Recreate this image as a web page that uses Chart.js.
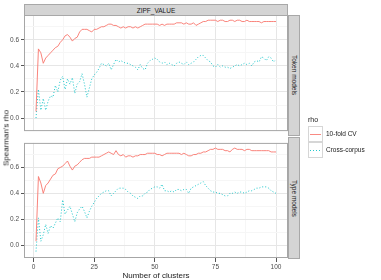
<!DOCTYPE html>
<html>
<head>
<meta charset="utf-8">
<script src="https://cdn.jsdelivr.net/npm/chart.js@4/dist/chart.umd.min.js"></script>
<style>
  body { margin: 0; width: 381px; height: 280px; background: #fff; position: relative; overflow: hidden;
         font-family: 'Liberation Sans', Arial, sans-serif; color: #1a1a1a; }
  canvas { position: absolute; left: 0; }
  .strip { position: absolute; box-sizing: border-box; background: #d4d4d4; border: 1px solid #a8a8a8;
           font-size: 6.5px; display: flex; align-items: center; justify-content: center; }
  .vstrip { writing-mode: vertical-rl; }
  .lbl { position: absolute; white-space: nowrap; }
  .key { position: absolute; left: 308px; width: 15px; height: 16px; box-sizing: border-box; border: 1px solid #d6d6d6; background: #fff; }
  .key span { position: absolute; left: 1px; right: 1px; top: 7px; height: 1px; }
</style>
</head>
<body>
<canvas id="top" width="381" height="137" style="top:0"></canvas>
<canvas id="bottom" width="381" height="143" style="top:137px"></canvas>

<div class="strip" style="left:24px; top:4px; width:264px; height:12px;">ZIPF_VALUE</div>
<div class="strip vstrip" style="left:288px; top:15px; width:12px; height:121px;">Token models</div>
<div class="strip vstrip" style="left:288px; top:137px; width:12px; height:122px;">Type models</div>

<div class="lbl" style="left:5.5px; top:137.5px; font-size:8px; transform:translate(-50%,-50%) rotate(-90deg);">Spearman's rho</div>
<div class="lbl" style="left:156px; top:275px; font-size:8px; transform:translate(-50%,-50%);">Number of clusters</div>

<div class="lbl" style="left:308px; top:116px; font-size:7px;">rho</div>
<div class="key" style="top:126px;"><span style="background:#F8766D; opacity:0.85;"></span></div>
<div class="key" style="top:142px;"><span style="background:repeating-linear-gradient(to right,#00BFC4 0 1px,transparent 1px 3px); opacity:0.85;"></span></div>
<div class="lbl" style="left:326px; top:130px; font-size:6.5px;">10-fold CV</div>
<div class="lbl" style="left:326px; top:146px; font-size:6.5px;">Cross-corpus</div>

<script>
// number of clusters (x)
const clusters = [1,2,3,4,5,6,7,8,9,10,11,12,13,14,15,16,17,18,19,20,
  21,22,23,24,25,26,27,28,29,30,31,32,33,34,35,36,37,38,39,40,
  41,42,43,44,45,46,47,48,49,50,51,52,53,54,55,56,57,58,59,60,
  61,62,63,64,65,66,67,68,69,70,71,72,73,74,75,76,77,78,79,80,
  81,82,83,84,85,86,87,88,89,90,91,92,93,94,95,96,97,98,99,100];

// Token models
const tokenCV = [0.05,0.53,0.50,0.42,0.46,0.48,0.50,0.52,0.54,0.55,
  0.58,0.60,0.63,0.64,0.62,0.59,0.61,0.62,0.66,0.68,
  0.68,0.68,0.67,0.66,0.68,0.68,0.69,0.70,0.70,0.71,
  0.72,0.72,0.71,0.71,0.70,0.69,0.70,0.69,0.70,0.70,
  0.69,0.70,0.69,0.70,0.71,0.72,0.72,0.72,0.72,0.72,
  0.72,0.71,0.72,0.71,0.72,0.72,0.72,0.72,0.73,0.73,
  0.73,0.72,0.73,0.72,0.72,0.73,0.71,0.72,0.73,0.74,
  0.74,0.75,0.75,0.75,0.75,0.74,0.75,0.75,0.74,0.74,
  0.75,0.75,0.74,0.75,0.75,0.74,0.74,0.75,0.74,0.74,
  0.74,0.74,0.74,0.73,0.74,0.74,0.74,0.74,0.74,0.74];
const tokenCross = [0.00,0.22,0.06,0.15,0.06,0.13,0.17,0.16,0.25,0.20,
  0.29,0.32,0.22,0.30,0.26,0.31,0.19,0.26,0.28,0.34,
  0.26,0.16,0.23,0.30,0.33,0.35,0.38,0.42,0.41,0.40,
  0.42,0.37,0.41,0.45,0.43,0.44,0.43,0.42,0.42,0.41,
  0.40,0.39,0.37,0.41,0.38,0.37,0.42,0.44,0.45,0.46,
  0.45,0.43,0.42,0.43,0.41,0.42,0.41,0.40,0.42,0.43,
  0.42,0.41,0.43,0.41,0.42,0.43,0.45,0.47,0.48,0.48,
  0.46,0.44,0.43,0.40,0.39,0.41,0.39,0.40,0.39,0.39,
  0.38,0.39,0.40,0.41,0.40,0.41,0.42,0.41,0.42,0.40,
  0.43,0.44,0.43,0.47,0.46,0.44,0.47,0.46,0.43,0.45];

// Type models
const typeCV = [0.03,0.53,0.48,0.40,0.46,0.48,0.51,0.54,0.55,0.59,
  0.60,0.61,0.63,0.65,0.61,0.58,0.61,0.62,0.64,0.66,
  0.67,0.67,0.67,0.68,0.68,0.68,0.68,0.69,0.70,0.71,
  0.72,0.71,0.70,0.73,0.70,0.69,0.70,0.68,0.69,0.69,
  0.68,0.69,0.69,0.70,0.70,0.70,0.71,0.71,0.71,0.71,
  0.70,0.70,0.69,0.70,0.71,0.71,0.71,0.71,0.71,0.71,
  0.70,0.71,0.70,0.69,0.69,0.70,0.70,0.71,0.71,0.72,
  0.72,0.73,0.74,0.74,0.75,0.74,0.74,0.74,0.73,0.73,
  0.72,0.74,0.75,0.74,0.74,0.74,0.73,0.74,0.74,0.73,
  0.73,0.73,0.73,0.73,0.73,0.73,0.73,0.72,0.72,0.72];
const typeCross = [-0.05,0.21,0.03,0.08,0.16,0.09,0.15,0.13,0.17,0.21,
  0.18,0.35,0.24,0.27,0.30,0.24,0.18,0.25,0.28,0.30,
  0.26,0.21,0.26,0.30,0.33,0.36,0.38,0.40,0.41,0.42,
  0.42,0.38,0.40,0.42,0.44,0.44,0.44,0.43,0.41,0.40,
  0.38,0.37,0.36,0.38,0.38,0.40,0.41,0.43,0.44,0.45,
  0.45,0.44,0.47,0.42,0.42,0.41,0.42,0.41,0.43,0.43,
  0.42,0.43,0.43,0.40,0.44,0.45,0.46,0.47,0.48,0.49,
  0.46,0.44,0.42,0.41,0.41,0.40,0.40,0.39,0.38,0.38,
  0.40,0.40,0.41,0.40,0.41,0.41,0.40,0.41,0.42,0.42,
  0.43,0.44,0.44,0.45,0.45,0.45,0.44,0.42,0.41,0.40];

// axes
const xMajor = [0, 25, 50, 75, 100];
const xMinor = [12.5, 37.5, 62.5, 87.5];
const xLabels = ['0', '25', '50', '75', '100'];
const yMajor = [0, 0.2, 0.4, 0.6];
const yMinor = [0.1, 0.3, 0.5, 0.7];
const yLabels = ['0.0', '0.2', '0.4', '0.6'];

const RED = '#F8766D', CYAN = '#00BFC4';
const tickFont = { family: "'Liberation Sans', Arial, sans-serif", size: 6.5 };

const panelBorder = {
  id: 'panelBorder',
  afterDraw(chart) {
    const { ctx, chartArea: a } = chart;
    ctx.save();
    ctx.strokeStyle = '#a6a6a6';
    ctx.lineWidth = 1;
    ctx.strokeRect(a.left + 0.5, a.top + 0.5, a.right - a.left - 1, a.bottom - a.top - 1);
    ctx.restore();
  }
};

const isMajor = (list, v) => list.some(m => Math.abs(m - v) < 1e-9);
const gridColor = (majors) => (c) => (c.tick && isMajor(majors, c.tick.value)) ? '#e6e6e6' : '#f6f6f6';
const tickColor = (majors) => (c) => (c.tick && isMajor(majors, c.tick.value)) ? '#555' : 'rgba(0,0,0,0)';

function pts(ys) { return clusters.map((x, i) => ({ x: x, y: ys[i] })); }

function makeChart(id, cv, cross, showX) {
  new Chart(document.getElementById(id), {
    type: 'line',
    data: {
      datasets: [
        { label: '10-fold CV', data: pts(cv), borderColor: RED, borderWidth: 0.9, pointRadius: 0, tension: 0 },
        { label: 'Cross-corpus', data: pts(cross), borderColor: CYAN, borderWidth: 0.9, borderDash: [1, 2], pointRadius: 0, tension: 0 }
      ]
    },
    options: {
      responsive: false,
      animation: false,
      devicePixelRatio: 1,
      layout: { padding: { left: 0, right: 93, top: showX ? 0 : 15, bottom: showX ? 0 : 1 } },
      plugins: { legend: { display: false }, tooltip: { enabled: false } },
      scales: {
        x: {
          type: 'linear', min: -3.95, max: 104.95,
          afterBuildTicks: (s) => { s.ticks = xMajor.concat(xMinor).map(v => ({ value: v })); },
          afterFit: (s) => { s.height = showX ? 22 : 0; },
          border: { display: false },
          grid: { color: gridColor(xMajor), lineWidth: 1, drawTicks: showX, tickLength: 4, tickColor: tickColor(xMajor) },
          ticks: {
            display: showX, autoSkip: false, maxRotation: 0, padding: 1, color: '#4d4d4d', font: tickFont,
            callback: (v) => { const i = xMajor.indexOf(v); return i >= 0 ? xLabels[i] : ''; }
          }
        },
        y: {
          type: 'linear', min: -0.1, max: 0.79,
          afterBuildTicks: (s) => { s.ticks = yMajor.concat(yMinor).map(v => ({ value: v })); },
          afterFit: (s) => { s.width = 24; },
          border: { display: false },
          grid: { color: gridColor(yMajor), lineWidth: 1, drawTicks: true, tickLength: 3, tickColor: tickColor(yMajor) },
          ticks: {
            autoSkip: false, padding: 2, color: '#4d4d4d', font: tickFont,
            callback: (v) => { const i = yMajor.findIndex(m => Math.abs(m - v) < 1e-9); return i >= 0 ? yLabels[i] : ''; }
          }
        }
      }
    },
    plugins: [panelBorder]
  });
}

makeChart('top', tokenCV, tokenCross, false);
makeChart('bottom', typeCV, typeCross, true);
</script>
</body>
</html>
